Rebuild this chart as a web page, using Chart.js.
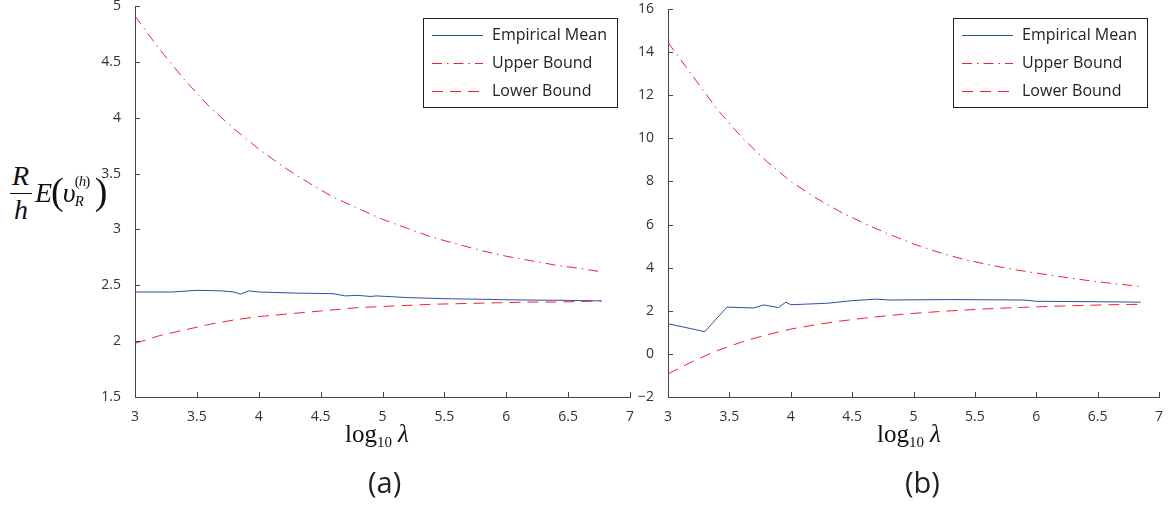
<!DOCTYPE html>
<html>
<head>
<meta charset="utf-8">
<script src="https://cdn.jsdelivr.net/npm/chart.js@4.4.0/dist/chart.umd.min.js"></script>
<style>
  html, body { margin: 0; padding: 0; background: #fff; overflow: hidden; }
  body { width: 1172px; height: 508px; position: relative; }
  .cv { position: absolute; }
  .xt { position: absolute; font-family: "Liberation Serif", "DejaVu Serif", serif; font-size: 25px; color: #111; white-space: nowrap; }
  .xt sub { font-size: 15px; vertical-align: -5px; }
  .xt i { margin-left: 6px; }
  .cap { position: absolute; font-family: "Open Sans", "Noto Sans", sans-serif; font-size: 29px; color: #222; }
  .ylab { position: absolute; left: 10px; top: 160px; font-family: "Liberation Serif", serif; font-style: italic; color: #111; }
</style>
</head>
<body>
<canvas id="chA" class="cv" style="left:70px; top:-20px; width:580px; height:460px" width="580" height="460"></canvas>
<canvas id="chB" class="cv" style="left:610px; top:-20px; width:562px; height:460px" width="562" height="460"></canvas>

<!-- y label of panel (a) -->
<div class="ylab">
  <div style="position:absolute; left:2px; top:0; font-size:28px;">R</div>
  <div style="position:absolute; left:0; top:33px; width:22px; border-top:1.3px solid #111;"></div>
  <div style="position:absolute; left:4px; top:34px; font-size:28px;">h</div>
  <div style="position:absolute; left:25px; top:7px; font-size:28px; white-space:nowrap; letter-spacing:-1px;">E<span style="font-style:normal; font-size:38px; position:relative; top:2px;">(</span>υ<span style="position:relative;"><span style="position:absolute; left:0; top:-4px; font-size:15px; font-style:normal;">(<i>h</i>)</span><span style="position:absolute; left:0; top:16px; font-size:15px;">R</span></span><span style="display:inline-block; width:20px;"></span><span style="font-style:normal; font-size:38px; position:relative; top:2px;">)</span></div>
</div>

<div class="xt" style="left:345px; top:420px;">log<sub>10</sub><i>λ</i></div>
<div class="xt" style="left:877px; top:420px;">log<sub>10</sub><i>λ</i></div>
<div class="cap" style="left:368px; top:462px;">(a)</div>
<div class="cap" style="left:905px; top:462px;">(b)</div>

<script>
// ---- panel (a) ----
const xA = [3.0, 3.2, 3.4, 3.6, 3.8, 4.0, 4.2, 4.4, 4.6, 4.8, 5.0, 5.2, 5.4, 5.6, 5.8, 6.0, 6.2, 6.4, 6.6, 6.77];
const upperA = [4.91, 4.61, 4.34, 4.10, 3.90, 3.72, 3.56, 3.42, 3.29, 3.19, 3.09, 3.01, 2.93, 2.87, 2.81, 2.76, 2.72, 2.68, 2.65, 2.62];
const lowerA = [1.98, 2.05, 2.10, 2.15, 2.19, 2.22, 2.24, 2.26, 2.28, 2.30, 2.31, 2.32, 2.33, 2.335, 2.34, 2.345, 2.35, 2.35, 2.355, 2.36];
const meanAx = [3.0, 3.3, 3.5, 3.7, 3.8, 3.85, 3.92, 4.0, 4.3, 4.6, 4.7, 4.8, 4.9, 4.95, 5.2, 5.5, 5.8, 6.0, 6.5, 6.77];
const meanAy = [2.44, 2.44, 2.455, 2.45, 2.44, 2.42, 2.45, 2.44, 2.43, 2.425, 2.405, 2.41, 2.40, 2.405, 2.39, 2.38, 2.375, 2.37, 2.365, 2.36];

// ---- panel (b) ----
const xB = [3.0, 3.2, 3.4, 3.6, 3.8, 4.0, 4.2, 4.4, 4.6, 4.8, 5.0, 5.2, 5.4, 5.6, 5.8, 6.0, 6.2, 6.4, 6.6, 6.85];
const upperB = [14.45, 12.9, 11.35, 10.05, 8.95, 8.0, 7.25, 6.6, 6.05, 5.55, 5.1, 4.72, 4.4, 4.15, 3.93, 3.75, 3.58, 3.42, 3.28, 3.13];
const lowerB = [-0.93, -0.35, 0.15, 0.55, 0.88, 1.15, 1.35, 1.52, 1.66, 1.78, 1.88, 1.96, 2.03, 2.09, 2.14, 2.18, 2.22, 2.25, 2.28, 2.30];
const meanBx = [3.0, 3.3, 3.48, 3.7, 3.78, 3.9, 3.96, 4.0, 4.3, 4.5, 4.7, 4.8, 5.3, 5.9, 6.0, 6.5, 6.85];
const meanBy = [1.4, 1.03, 2.17, 2.13, 2.27, 2.15, 2.4, 2.28, 2.35, 2.47, 2.54, 2.5, 2.52, 2.5, 2.44, 2.42, 2.40];

const legendLabels = ['Empirical Mean', 'Upper Bound', 'Lower Bound'];
const xTicks = [3, 3.5, 4, 4.5, 5, 5.5, 6, 6.5, 7];

const BLUE = '#2f4ea6';
const RED = '#f0222a';
const AXIS = '#444';
const TXT = '#333';
const FONT = '"Open Sans", "Noto Sans", sans-serif';

const pts = (xs, ys) => xs.map((x, i) => ({ x, y: ys[i] }));
const fmt = v => String(v).replace('-', '\u2212');

// inward tick marks, like the matlab axes
const inTicks = {
  id: 'inTicks',
  afterDraw(chart) {
    const { ctx, chartArea: a, scales } = chart;
    ctx.save();
    ctx.strokeStyle = AXIS;
    ctx.lineWidth = 1;
    ctx.beginPath();
    scales.x.ticks.forEach(t => {
      const px = Math.round(scales.x.getPixelForValue(t.value)) + 0.5;
      ctx.moveTo(px, a.bottom); ctx.lineTo(px, a.bottom - 5);
    });
    scales.y.ticks.forEach(t => {
      const py = Math.round(scales.y.getPixelForValue(t.value)) + 0.5;
      ctx.moveTo(a.left, py); ctx.lineTo(a.left + 5, py);
    });
    ctx.stroke();
    ctx.restore();
  }
};

// boxed legend inside the plot, top right
const boxLegend = {
  id: 'boxLegend',
  afterDraw(chart, args, opts) {
    const { ctx, chartArea: a } = chart;
    const w = 194, h = 89;
    const x0 = Math.round(a.right - opts.right - w), y0 = Math.round(a.top + opts.top);
    ctx.save();
    ctx.fillStyle = '#fff';
    ctx.fillRect(x0, y0, w, h);
    ctx.strokeStyle = '#222';
    ctx.lineWidth = 1;
    ctx.strokeRect(x0 + 0.5, y0 + 0.5, w, h);
    ctx.font = '16px ' + FONT;
    ctx.textBaseline = 'middle';
    chart.data.datasets.forEach((ds, i) => {
      const cy = y0 + 17 + i * 28 + 0.5;
      ctx.strokeStyle = ds.borderColor;
      ctx.lineWidth = 1;
      ctx.setLineDash(ds.borderDash || []);
      ctx.beginPath();
      ctx.moveTo(x0 + 9, cy); ctx.lineTo(x0 + 60, cy);
      ctx.stroke();
      ctx.setLineDash([]);
      ctx.fillStyle = '#222';
      ctx.fillText(ds.label, x0 + 69, cy);
    });
    ctx.restore();
  }
};

function makeChart(id, mean, upper, lower, yMin, yMax, yStep, pad, yWidth, leg) {
  return new Chart(document.getElementById(id), {
    type: 'line',
    data: {
      datasets: [
        { label: legendLabels[0], data: mean, borderColor: BLUE, borderWidth: 1 },
        { label: legendLabels[1], data: upper, borderColor: RED, borderWidth: 1, borderDash: [10, 5, 1.5, 5] },
        { label: legendLabels[2], data: lower, borderColor: RED, borderWidth: 1, borderDash: [11, 7] },
      ],
    },
    options: {
      responsive: false,
      animation: false,
      layout: { padding: pad },
      elements: { point: { radius: 0 }, line: { tension: 0 } },
      plugins: { legend: { display: false }, tooltip: { enabled: false }, boxLegend: leg },
      scales: {
        x: {
          type: 'linear', min: 3, max: 7,
          afterBuildTicks: s => { s.ticks = xTicks.map(v => ({ value: v })); },
          grid: { display: false },
          border: { display: true, color: AXIS, width: 1 },
          ticks: { color: TXT, font: { family: FONT, size: 14 }, padding: 4, callback: fmt },
          afterFit: s => { s.height = 30; },
        },
        y: {
          min: yMin, max: yMax,
          grid: { display: false },
          border: { display: true, color: AXIS, width: 1 },
          ticks: { stepSize: yStep, color: TXT, font: { family: FONT, size: 14 }, padding: 6, callback: fmt },
          afterFit: s => { s.width = yWidth; },
        },
      },
    },
    plugins: [inTicks, boxLegend],
  });
}

makeChart('chA', pts(meanAx, meanAy), pts(xA, upperA), pts(xA, lowerA),
  1.5, 5, 0.5, { left: 20, right: 20, top: 26, bottom: 13 }, 45, { right: 13, top: 12 });
makeChart('chB', pts(meanBx, meanBy), pts(xB, upperB), pts(xB, lowerB),
  -2, 16, 2, { left: 18, right: 13, top: 29, bottom: 13 }, 40, { right: 12, top: 9 });
</script>
</body>
</html>
